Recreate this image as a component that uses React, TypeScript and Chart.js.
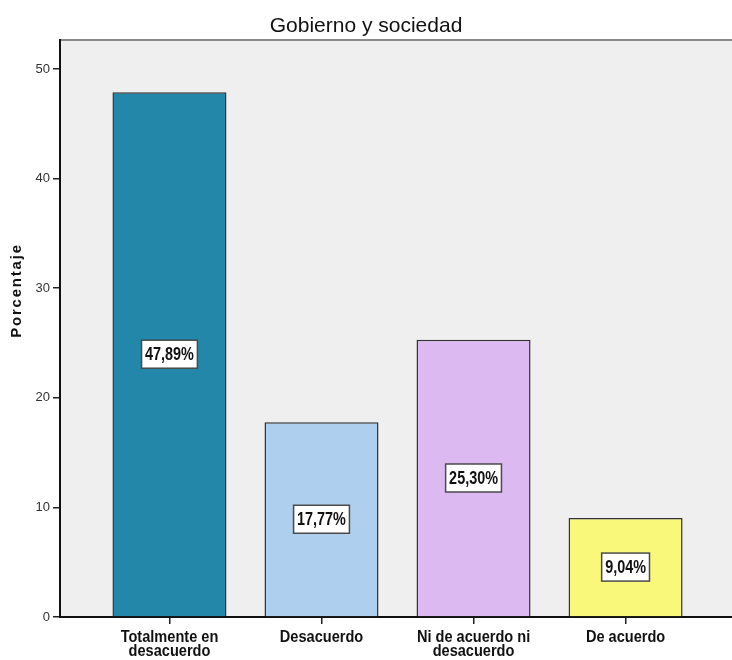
import React, { useEffect, useRef } from "react";
import { Chart, registerables } from "chart.js";

Chart.register(...registerables);

const titleText = "Gobierno y sociedad";
const yAxisTitle = "Porcentaje";
const categories: string[][] = [
  ["Totalmente en", "desacuerdo"],
  ["Desacuerdo"],
  ["Ni de acuerdo ni", "desacuerdo"],
  ["De acuerdo"],
];
const values: number[] = [47.89, 17.77, 25.3, 9.04];
const barColors: string[] = ["#2287a8", "#aed0ee", "#ddb9f2", "#faf87b"];
const yTicks: number[] = [0, 10, 20, 30, 40, 50];

const FONT = '"Liberation Sans", Arial, sans-serif';

function fillCondensed(ctx: CanvasRenderingContext2D, text: string, x: number, y: number, sx: number) {
  ctx.save();
  ctx.translate(x, y);
  ctx.scale(sx, 1);
  ctx.textAlign = "center";
  ctx.fillText(text, 0, 0);
  ctx.restore();
}

const decorPlugin = {
  id: "decor",
  beforeDraw(chart: any) {
    const { ctx, chartArea } = chart;
    ctx.save();
    ctx.fillStyle = "#ffffff";
    ctx.fillRect(0, 0, chart.width, chart.height);
    ctx.fillStyle = "#efefef";
    ctx.fillRect(chartArea.left, chartArea.top, chartArea.right - chartArea.left, chartArea.bottom - chartArea.top);
    ctx.strokeStyle = "#8a8a8a";
    ctx.lineWidth = 2;
    ctx.beginPath();
    ctx.moveTo(chartArea.left, chartArea.top);
    ctx.lineTo(chartArea.right, chartArea.top);
    ctx.stroke();
    ctx.restore();
  },
  afterDraw(chart: any) {
    const { ctx, chartArea } = chart;
    ctx.save();
    // title
    ctx.fillStyle = "#111111";
    ctx.font = `21px ${FONT}`;
    ctx.textAlign = "center";
    ctx.textBaseline = "alphabetic";
    ctx.fillText(titleText, chart.width / 2, 32);
    // y axis title
    ctx.save();
    ctx.translate(21, (chartArea.top + chartArea.bottom) / 2 - 38);
    ctx.rotate(-Math.PI / 2);
    ctx.font = `bold 15px ${FONT}`;
    try { (ctx as any).letterSpacing = "1.8px"; } catch (e) {}
    ctx.textAlign = "center";
    ctx.fillText(yAxisTitle, 0, 0);
    ctx.restore();
    // x category labels
    const xs = chart.scales.x;
    ctx.font = `bold 16px ${FONT}`;
    ctx.fillStyle = "#111111";
    categories.forEach((lines, i) => {
      const px = xs.getPixelForValue(i);
      lines.forEach((ln, j) => {
        fillCondensed(ctx, ln, px, chartArea.bottom + 25 + j * 14, 0.91);
      });
    });
    ctx.restore();
  },
  afterDatasetsDraw(chart: any) {
    const { ctx } = chart;
    const meta = chart.getDatasetMeta(0);
    ctx.save();
    ctx.font = `bold 18px ${FONT}`;
    meta.data.forEach((bar: any, i: number) => {
      const p = bar.getProps(["x", "y", "base"], true);
      const cy = (p.y + p.base) / 2;
      const txt = values[i].toFixed(2).replace(".", ",") + "%";
      const tw = ctx.measureText(txt).width * 0.8;
      const w = tw + 7;
      const h = 28;
      ctx.fillStyle = "#ffffff";
      ctx.fillRect(p.x - w / 2, cy - h / 2, w, h);
      ctx.strokeStyle = "#4a4a4a";
      ctx.lineWidth = 1.5;
      ctx.strokeRect(p.x - w / 2, cy - h / 2, w, h);
      ctx.fillStyle = "#111111";
      ctx.textBaseline = "middle";
      fillCondensed(ctx, txt, p.x, cy + 1, 0.8);
    });
    ctx.restore();
  },
};

export default function App() {
  const ref = useRef<HTMLCanvasElement | null>(null);
  useEffect(() => {
    document.body.style.margin = "0";
    const canvas = ref.current;
    if (!canvas) return;
    const chart = new Chart(canvas, {
      type: "bar",
      data: {
        datasets: [
          {
            data: values.map((v, i) => ({ x: i, y: v })),
            backgroundColor: barColors,
            borderColor: "#333333",
            borderWidth: 1.5,
            categoryPercentage: 1,
            barPercentage: 0.75,
          } as any,
        ],
      },
      options: {
        animation: false,
        responsive: false,
        devicePixelRatio: 1,
        layout: { padding: { top: 40, left: 0, right: 0, bottom: 0 } },
        plugins: {
          legend: { display: false },
          title: { display: false },
          tooltip: { enabled: false },
        },
        scales: {
          x: {
            type: "linear",
            offset: false,
            min: -0.72,
            max: 3.70,
            afterBuildTicks: (scale: any) => {
              scale.ticks = categories.map((_, i) => ({ value: i }));
            },
            afterFit: (scale: any) => {
              scale.height = 43;
            },
            ticks: { display: false },
            grid: {
              offset: false,
              drawOnChartArea: false,
              drawTicks: true,
              tickLength: 7,
              color: "#222222",
              lineWidth: 1.5,
            },
            border: { display: true, color: "#111111", width: 2 },
          },
          y: {
            type: "linear",
            min: 0,
            max: 52.65,
            afterBuildTicks: (scale: any) => {
              scale.ticks = yTicks.map((v) => ({ value: v }));
            },
            afterFit: (scale: any) => {
              scale.width = 60;
            },
            ticks: {
              font: { family: FONT, size: 13 },
              color: "#333333",
              padding: 3,
            },
            grid: {
              drawOnChartArea: false,
              drawTicks: true,
              tickLength: 7,
              color: "#222222",
              lineWidth: 1.5,
            },
            border: { display: true, color: "#111111", width: 2 },
          },
        },
      } as any,
      plugins: [decorPlugin],
    });
    return () => chart.destroy();
  }, []);
  return (
    <div style={{ width: 732, height: 660 }}>
      <canvas ref={ref} width={732} height={660} style={{ display: "block" }} />
    </div>
  );
}
